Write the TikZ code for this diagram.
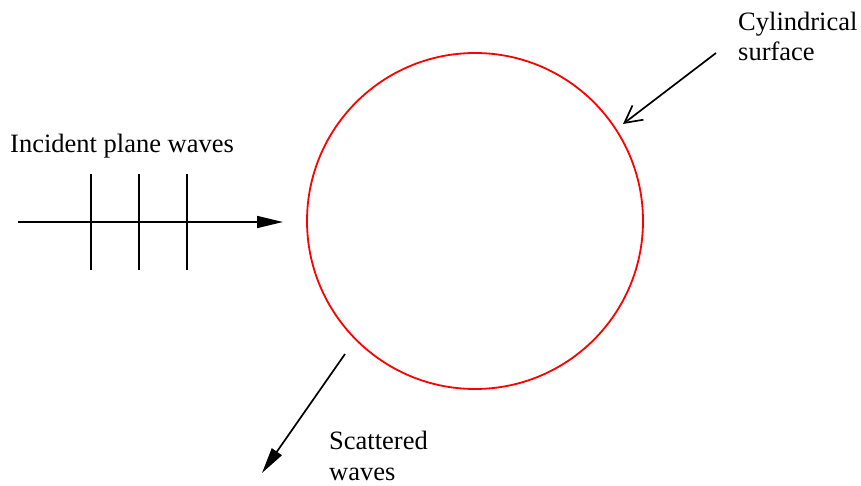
\documentclass[tikz,border=0pt]{standalone}
\usepackage{fontspec}
\setmainfont{Liberation Serif}
\usetikzlibrary{arrows.meta}
\begin{document}
\begin{tikzpicture}[x=1pt,y=-1pt,
  lbl/.style={anchor=base west,inner sep=0pt,font=\fontsize{26.5}{30.5}\selectfont,align=left},
  wline/.style={line width=1.7pt,black},
  fillarrow/.style={wline,-{Triangle[length=26pt,width=12pt]}},
  openarrow/.style={wline,-{Straight Barb[length=17pt,width=18pt,line width=1.7pt]}}]
\useasboundingbox (0,0) rectangle (861,486);
% circle
\node[circle,draw=red,line width=1.8pt,minimum size=336pt,inner sep=0pt] (cyl) at (475,221) {};
% incident waves
\coordinate (inS) at (18,222);
\coordinate (inE) at (283,222);
\draw[fillarrow] (inS) -- (inE);
\foreach \x/\n in {91/a,139/b,187/c}{
  \coordinate (wt\n) at (\x,174);
  \coordinate (wb\n) at (\x,270);
  \draw[wline] (wt\n) -- (wb\n);
}
\node[lbl] (inc) at (10,153) {Incident plane waves};
% cylindrical surface
\node[lbl] (cyltxt) at (738,61) {Cylindrical\\surface};
\coordinate (cS) at (716,53);
\coordinate (cE) at (623,124);
\draw[openarrow] (cS) -- (cE);
% scattered
\node[lbl] (sct) at (329,480) {Scattered\\waves};
\coordinate (sS) at (345,354);
\coordinate (sE) at (262,473);
\draw[fillarrow] (sS) -- (sE);
\end{tikzpicture}
\end{document}
